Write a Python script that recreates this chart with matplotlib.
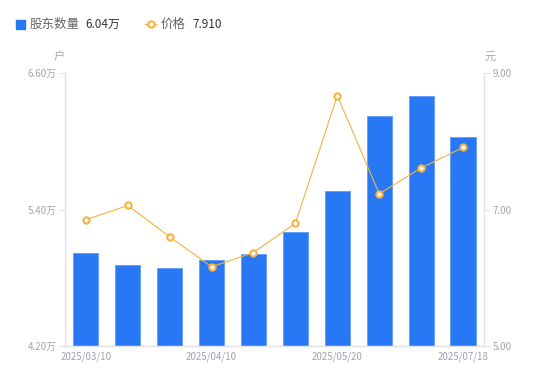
import numpy as np
import matplotlib
matplotlib.use("Agg")
import matplotlib.pyplot as plt
from matplotlib.lines import Line2D
from matplotlib.patches import Rectangle

plt.rcParams['font.family'] = ['Noto Sans CJK SC', 'DejaVu Sans']

dates = ['2025/03/10', '2025/03/20', '2025/03/31', '2025/04/10', '2025/04/18',
         '2025/04/30', '2025/05/20', '2025/05/30', '2025/06/30', '2025/07/18']
holders = [5.02, 4.91, 4.89, 4.96, 5.01, 5.20, 5.56, 6.22, 6.40, 6.04]  # 万户
price = [6.85, 7.06, 6.60, 6.16, 6.37, 6.80, 8.67, 7.23, 7.61, 7.91]
shown_idx = [0, 3, 6, 9]
left_ticks = [4.20, 5.40, 6.60]
right_ticks = [5.00, 7.00, 9.00]

bar_color = '#2878f5'
line_color = '#f7b13c'
tick_color = '#a3a3b3'
axis_color = '#e3e3e8'

fig = plt.figure(figsize=(5.5, 3.81), dpi=100)
ax = fig.add_axes([0.118, 0.092, 0.762, 0.716])
ax2 = ax.twinx()

x = np.arange(len(dates))
ax.bar(x, holders, width=0.6, color=bar_color, edgecolor='#5d9bfa', linewidth=0.6, zorder=2)
ax.set_xlim(-0.5, len(dates) - 0.5)
ax.set_ylim(left_ticks[0], left_ticks[-1])
ax.set_yticks(left_ticks)
ax.set_yticklabels([f'{v:.2f}万' for v in left_ticks])
ax.set_xticks([x[i] for i in shown_idx])
ax.set_xticklabels([dates[i] for i in shown_idx])

ax2.plot(x, price, color=line_color, linewidth=0.8, marker='o', markersize=4.5,
         markerfacecolor='white', markeredgecolor=line_color, markeredgewidth=1.5, zorder=3)
ax2.set_ylim(right_ticks[0], right_ticks[-1])
ax2.set_yticks(right_ticks)
ax2.set_yticklabels([f'{v:.2f}' for v in right_ticks])

for a in (ax, ax2):
    a.spines['top'].set_visible(False)
    for s in ('left', 'right', 'bottom'):
        a.spines[s].set_color(axis_color)
        a.spines[s].set_linewidth(0.9)
    a.tick_params(axis='y', length=4, width=0.8, color=axis_color, labelcolor=tick_color,
                  labelsize=7, pad=2)
ax.tick_params(axis='x', length=0, labelcolor=tick_color, labelsize=7, pad=4)

# axis unit labels
fig.text(59 / 550, 1 - 57 / 381, '户', fontsize=8, color=tick_color, ha='center', va='center')
fig.text(490 / 550, 1 - 57 / 381, '元', fontsize=8, color=tick_color, ha='center', va='center')

# legend row
fig.patches.append(Rectangle((16 / 550, 1 - 29 / 381), 9 / 550, 9 / 381,
                             transform=fig.transFigure, color=bar_color, figure=fig))
fig.text(30 / 550, 1 - 24 / 381, '股东数量', fontsize=9, color='#666666', va='center')
fig.text(85 / 550, 1 - 24 / 381, '6.04万', fontsize=8.5, color='#333333', va='center')
fig.lines.append(Line2D([145 / 550, 156 / 550], [1 - 24 / 381, 1 - 24 / 381],
                        transform=fig.transFigure, color=line_color, linewidth=1, figure=fig))
fig.lines.append(Line2D([150.5 / 550], [1 - 24 / 381], transform=fig.transFigure,
                        color=line_color, marker='o', markersize=4.5, markerfacecolor='white',
                        markeredgewidth=1.5, linestyle='none', figure=fig))
fig.text(161 / 550, 1 - 24 / 381, '价格', fontsize=9, color='#666666', va='center')
fig.text(192 / 550, 1 - 24 / 381, '7.910', fontsize=8.5, color='#333333', va='center')

fig.savefig('out.png', dpi=100)
